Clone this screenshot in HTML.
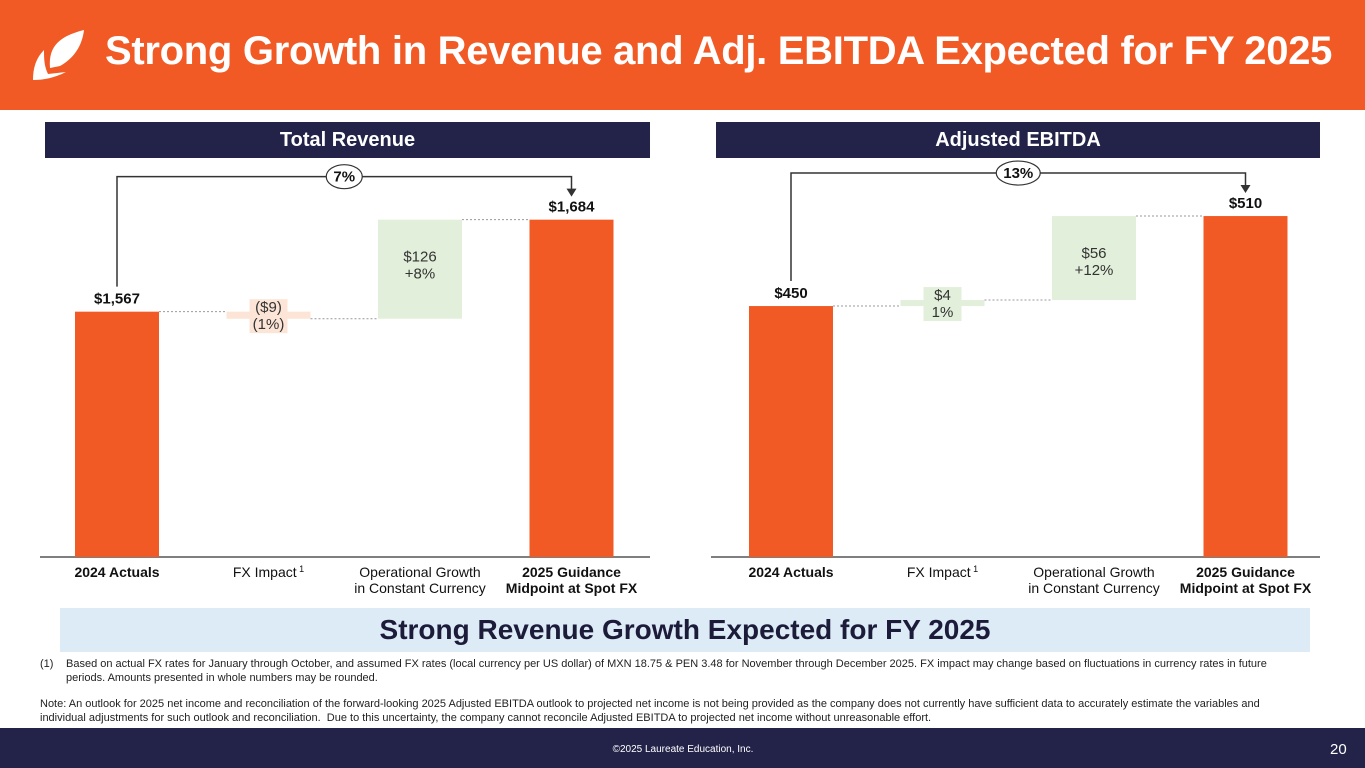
<!DOCTYPE html>
<html><head><meta charset="utf-8">
<style>
body{margin:0;width:1365px;height:768px;overflow:hidden;background:#fff;font-family:"Liberation Sans",sans-serif;position:relative}
.abs{position:absolute}
.n{font-family:"Liberation Sans Narrow","Liberation Sans",sans-serif}
</style></head><body>
<div class="abs" style="left:0;top:0;width:1365px;height:110px;background:#F15A24"></div>
<svg class="abs" style="left:30px;top:28px" width="56" height="56" viewBox="0 0 56 56">
<path d="M54 2 C30 8 18 18 20 40 L30 38 C44 30 52 18 54 2Z" fill="#fff"/>
<path d="M14 22 C6 30 3 40 3 52 C14 52 24 50 36 44 L18 46 C14 38 14 30 14 22Z" fill="#fff"/>
</svg>
<div class="abs" style="left:105px;top:29px;font-size:40px;font-weight:bold;color:#fff;white-space:nowrap;letter-spacing:-0.3px">Strong Growth in Revenue and Adj. EBITDA Expected for FY 2025</div>

<div class="abs" style="left:45px;top:122px;width:605px;height:36px;background:#23234A;color:#fff;font-weight:bold;font-size:20px;line-height:36px;text-align:center">Total Revenue</div>
<div class="abs" style="left:716px;top:122px;width:604px;height:36px;background:#23234A;color:#fff;font-weight:bold;font-size:20px;line-height:36px;text-align:center">Adjusted EBITDA</div>

<svg class="abs" id="charts" style="left:0;top:0" width="1365" height="610"></svg>

<div class="abs" style="left:60px;top:608px;width:1250px;height:44px;background:#DDEBF7;color:#1c1c3a;font-weight:bold;font-size:28px;line-height:44px;text-align:center">Strong Revenue Growth Expected for FY 2025</div>

<div class="abs n" style="left:40px;top:657px;width:1235px;font-size:11px;line-height:14px;color:#222">
<span style="position:absolute;left:0">(1)</span>
<div style="margin-left:26px">Based on actual FX rates for January through October, and assumed FX rates (local currency per US dollar) of MXN 18.75 &amp; PEN 3.48 for November through December 2025. FX impact may change based on fluctuations in currency rates in future periods. Amounts presented in whole numbers may be rounded.</div>
</div>
<div class="abs n" style="left:40px;top:697px;width:1250px;font-size:11px;line-height:14px;color:#222">Note: An outlook for 2025 net income and reconciliation of the forward-looking 2025 Adjusted EBITDA outlook to projected net income is not being provided as the company does not currently have sufficient data to accurately estimate the variables and individual adjustments for such outlook and reconciliation.&nbsp; Due to this uncertainty, the company cannot reconcile Adjusted EBITDA to projected net income without unreasonable effort.</div>

<div class="abs" style="left:0;top:728px;width:1365px;height:40px;background:#23234A"></div>
<div class="abs n" style="left:583px;top:744px;width:200px;text-align:center;font-size:10px;color:#fff">©2025 Laureate Education, Inc.</div>
<div class="abs" style="left:1330px;top:741px;font-size:15px;color:#fff">20</div>

<script>
const categories=["2024 Actuals","FX Impact","Operational Growth in Constant Currency","2025 Guidance Midpoint at Spot FX"];
const revenueValues=[1567,-9,126,1684];
const revenueLabels=["$1,567","($9)|(1%)","$126|+8%","$1,684"];
const revenueGrowth="7%";
const ebitdaValues=[450,4,56,510];
const ebitdaLabels=["$450","$4|1%","$56|+12%","$510"];
const ebitdaGrowth="13%";

const NS="http://www.w3.org/2000/svg";
const svg=document.getElementById('charts');
function mk(tag,attrs,parent){const e=document.createElementNS(NS,tag);for(const k in attrs)e.setAttribute(k,attrs[k]);(parent||svg).appendChild(e);return e;}

function chart(cfg){
  const {vals,labels,growth,x0,axisL,axisR,base,k,prefix}=cfg;
  const yBase=557;
  const y=v=>yBase-(v-base)*k;
  const xs=i=>x0+i*151.5;
  const w=84;
  const g=mk('g',{});
  
  
  const ax=mk('line',{x1:axisL,x2:axisR,y1:yBase,y2:yBase,stroke:'#555','stroke-width':1.5},g);
  
  
  let run=vals[0];
  const tops=[];
  vals.forEach((v,i)=>{
    let top,bot,fill;
    if(i===0||i===vals.length-1){top=y(v);bot=yBase;fill='#F15A24';}
    else{const a=run,b=run+v;top=y(Math.max(a,b));bot=y(Math.min(a,b));fill=v<0?'#FCE4D6':'#E2EFDA';run=b;}
    tops.push({top,bot,v});
    const r=mk('rect',{x:xs(i),y:top,width:w,height:Math.max(bot-top,1),fill},g);
    
    
    const parts=labels[i].split('|');
    if(parts.length===1){
      const t=mk('text',{x:xs(i)+w/2,y:top-8,'text-anchor':'middle','font-size':15,'font-weight':'bold',fill:'#111'},g);
      t.textContent=parts[0];
      
      
    }else{
      const small=(bot-top)<30;
      const cy=(top+bot)/2;
      if(small){
        const bx=mk('rect',{x:xs(i)+w/2-19,y:cy-16,width:38,height:34,fill:v<0?'#FCE4D6':'#E2EFDA'},g);
        
        
      }
      parts.forEach((p,j)=>{
        const t=mk('text',{x:xs(i)+w/2,y:(small?cy-3:top+42)+j*17,'text-anchor':'middle','font-size':15,fill:'#333'},g);
        t.textContent=p;
        
        
      });
    }
  });
  let lvl=vals[0];
  for(let i=0;i<vals.length-1;i++){
    if(i>0)lvl+=vals[i];
    const l=mk('line',{x1:xs(i)+w,x2:xs(i+1),y1:y(lvl),y2:y(lvl),stroke:'#999','stroke-width':1,'stroke-dasharray':'2,2'},g);
    
    
  }
  const n=vals.length-1;
  const bx1=xs(0)+w/2,bx2=xs(n)+w/2;
  const byTop=Math.min(tops[0].top,tops[n].top)-43;
  const p=mk('path',{d:`M${bx1},${tops[0].top-25} V${byTop} H${bx2} V${tops[n].top-30}`,fill:'none',stroke:'#333','stroke-width':1.5},g);
  
  
  const ar=mk('path',{d:`M${bx2-5},${tops[n].top-31} L${bx2+5},${tops[n].top-31} L${bx2},${tops[n].top-23}Z`,fill:'#333'},g);
  
  
  const cx=(bx1+bx2)/2-0;
  const el=mk('ellipse',{cx:cx,cy:byTop,rx:growth.length>2?22:18,ry:12,fill:'#fff',stroke:'#333','stroke-width':1.2},g);
  
  
  const gt=mk('text',{x:cx,y:byTop+5,'text-anchor':'middle','font-size':15,'font-weight':'bold',fill:'#111'},g);
  gt.textContent=growth;
  
  
  const catLines=[["2024 Actuals"],["FX Impact"],["Operational Growth","in Constant Currency"],["2025 Guidance","Midpoint at Spot FX"]];
  catLines.forEach((ls,i)=>{
    ls.forEach((s,j)=>{
      const t=mk('text',{x:xs(i)+w/2,y:577+j*16,'text-anchor':'middle','font-size':14,'font-weight':(i===0||i===3)?'bold':'normal',fill:'#111','font-family':'"Liberation Sans Narrow","Liberation Sans",sans-serif'},g);
      t.textContent=s;
      if(i===1){const sp=mk('tspan',{'font-size':9,dy:-5},t);sp.textContent=' 1';}
      
      
    });
  });
}
chart({vals:revenueValues,labels:revenueLabels,growth:revenueGrowth,x0:75,axisL:40,axisR:650,base:1255,k:92/117,prefix:'revenue'});
chart({vals:ebitdaValues,labels:ebitdaLabels,growth:ebitdaGrowth,x0:749,axisL:711,axisR:1320,base:282.7,k:1.5,prefix:'ebitda'});
</script>
</body></html>
